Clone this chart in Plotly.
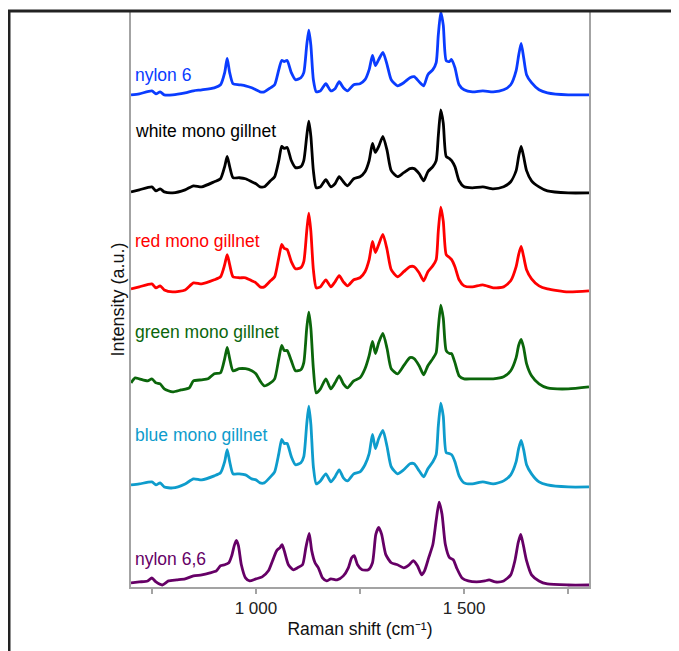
import plotly.graph_objects as go

# ---------------- data (stacked intensities, a.u.) ----------------
wn = [700, 720, 750, 760, 770, 780, 800, 830, 850, 870, 900, 915, 925, 931, 937, 945, 960, 975, 990, 1000,
      1010, 1020, 1035, 1045, 1055, 1062, 1068, 1075, 1085, 1095, 1108, 1115, 1122, 1127, 1132, 1138, 1145,
      1155, 1168, 1180, 1190, 1200, 1210, 1220, 1235, 1250, 1262, 1272, 1280, 1287, 1295, 1305, 1315, 1325,
      1340, 1355, 1370, 1380, 1392, 1403, 1413, 1425, 1433, 1438, 1444, 1450, 1457, 1465, 1470, 1478, 1488,
      1500, 1520, 1545, 1570, 1595, 1612, 1625, 1631, 1637, 1643, 1650, 1662, 1680, 1700, 1750, 1800]

nylon6 = [487, 488, 491, 488, 490, 487, 487, 489, 491, 492, 494, 497, 509, 523, 509, 498, 497, 496, 494, 492,
          490, 490, 494, 497, 512, 521, 520, 521, 509, 502, 504, 509, 536, 551, 536, 502, 490,
          491, 498, 491, 493, 500, 494, 491, 497, 498, 502, 512, 526, 516, 522, 529, 517, 502,
          496, 499, 504, 505, 500, 496, 507, 512, 519, 546, 569, 556, 521, 520, 522, 514, 497,
          492, 490, 491, 490, 492, 497, 511, 526, 538, 524, 507, 499, 492, 489, 487, 487]

white_mono = [391, 393, 396, 392, 394, 391, 390, 393, 397, 396, 401, 404, 416, 426, 416, 405, 405, 404, 401, 399,
              396, 396, 402, 406, 422, 436, 434, 435, 422, 415, 416, 422, 446, 461, 446, 412, 395,
              396, 403, 396, 399, 406, 401, 397, 404, 406, 411, 422, 439, 430, 436, 446, 432, 412,
              406, 410, 414, 414, 409, 402, 411, 416, 422, 446, 472, 459, 426, 424, 422, 416, 402,
              396, 395, 396, 394, 396, 401, 412, 426, 436, 426, 412, 402, 396, 392, 390, 390]

red_mono = [295, 297, 300, 296, 298, 294, 292, 294, 301, 300, 304, 307, 319, 329, 319, 307, 306, 306, 303, 301,
            297, 297, 303, 307, 326, 339, 335, 334, 322, 315, 316, 322, 352, 370, 352, 314, 296,
            297, 304, 297, 302, 308, 302, 298, 304, 306, 312, 324, 342, 331, 339, 349, 334, 314,
            307, 312, 317, 317, 311, 303, 312, 318, 324, 352, 376, 362, 329, 326, 324, 317, 304,
            298, 297, 299, 296, 297, 303, 317, 329, 337, 327, 314, 305, 298, 295, 292, 293]

blue_mono = [101, 102, 104, 101, 103, 99, 98, 102, 107, 106, 110, 113, 124, 136, 124, 112, 112, 111, 107, 106,
             103, 103, 109, 114, 132, 146, 142, 142, 129, 121, 123, 129, 161, 179, 161, 119, 102,
             105, 112, 104, 109, 116, 108, 105, 112, 114, 121, 132, 151, 137, 147, 155, 139, 119,
             112, 116, 122, 122, 115, 109, 117, 124, 131, 159, 182, 169, 133, 132, 131, 124, 110,
             103, 102, 104, 102, 105, 111, 124, 137, 145, 136, 121, 112, 104, 101, 99, 99]

wn_green = [700, 710, 720, 740, 750, 760, 770, 780, 800, 820, 840, 850, 870, 885, 900, 915, 925, 931, 937, 945,
            960, 975, 990, 1000, 1010, 1020, 1035, 1045, 1055, 1062, 1068, 1075, 1085, 1095, 1108, 1115, 1122,
            1127, 1132, 1138, 1145, 1155, 1168, 1180, 1190, 1200, 1210, 1220, 1235, 1250, 1262, 1272, 1280,
            1287, 1295, 1305, 1315, 1325, 1340, 1355, 1370, 1380, 1392, 1403, 1413, 1425, 1433, 1438, 1444,
            1450, 1457, 1465, 1470, 1478, 1488, 1500, 1520, 1545, 1570, 1595, 1612, 1625, 1631, 1637, 1643,
            1650, 1662, 1680, 1700, 1750, 1800]
green_mono = [202, 207, 206, 204, 206, 202, 201, 196, 193, 195, 197, 204, 205, 206, 211, 212, 226, 237, 226, 214,
              216, 216, 214, 211, 204, 199, 202, 206, 226, 239, 234, 234, 224, 214, 215, 222, 256,
              272, 256, 216, 192, 196, 206, 196, 202, 209, 201, 197, 204, 207, 216, 229, 243,
              231, 242, 251, 236, 216, 211, 219, 227, 226, 219, 210, 219, 226, 232, 256, 279,
              266, 234, 231, 231, 222, 209, 206, 206, 206, 206, 208, 214, 227, 239, 245, 237,
              221, 209, 201, 197, 196, 198]

wn_n66 = [700, 720, 740, 750, 760, 775, 790, 810, 830, 850, 870, 890, 905, 915, 925, 935, 942, 948, 953, 958,
          965, 975, 985, 1000, 1015, 1030, 1040, 1050, 1058, 1063, 1068, 1078, 1090, 1100, 1112, 1120, 1128,
          1134, 1142, 1150, 1160, 1170, 1180, 1195, 1210, 1222, 1230, 1236, 1244, 1255, 1270, 1280, 1288,
          1295, 1302, 1312, 1325, 1340, 1355, 1368, 1378, 1388, 1398, 1405, 1415, 1425, 1433, 1440, 1447,
          1455, 1465, 1474, 1482, 1495, 1510, 1530, 1550, 1560, 1575, 1595, 1612, 1622, 1630, 1636, 1642,
          1650, 1662, 1680, 1700, 1750, 1800]
nylon66 = [4, 5, 6, 9, 5, 2, 6, 7, 8, 11, 12, 14, 16, 21, 22, 24, 31, 41, 46, 41,
           22, 9, 6, 8, 10, 16, 26, 36, 39, 42, 36, 22, 17, 19, 22, 39, 53,
           36, 24, 19, 9, 6, 8, 7, 11, 19, 29, 31, 22, 17, 17, 24, 52,
           59, 52, 32, 24, 22, 19, 22, 26, 21, 12, 16, 29, 42, 66, 84, 72,
           42, 29, 27, 19, 9, 6, 5, 6, 7, 5, 6, 12, 26, 44, 52, 42,
           26, 12, 6, 3, 2, 2]

series_names = ["nylon 6", "white mono gillnet", "red mono gillnet",
                "green mono gillnet", "blue mono gillnet", "nylon 6,6"]
series_x = [wn, wn, wn, wn_green, wn, wn_n66]
series_y = [nylon6, white_mono, red_mono, green_mono, blue_mono, nylon66]
label_y = [507, 451, 342, 252, 150, 28]
colors = ["#0a3cff", "#000000", "#ff0000", "#0b660b", "#0e9ccc", "#660066"]

tick_vals = [750, 1000, 1250, 1500, 1750]
tick_text = ["", "1 000", "", "1 500", ""]

# ---------------- figure ----------------
FONT = "Liberation Sans, Arial, sans-serif"
fig = go.Figure()
for name, xs, ys, c in zip(series_names, series_x, series_y, colors):
    fig.add_trace(go.Scatter(x=xs, y=ys, mode="lines", name=name,
                             line=dict(color=c, width=2.8, shape="spline", smoothing=0.6),
                             showlegend=False, hoverinfo="skip"))

for name, ly, c in zip(series_names, label_y, colors):
    fig.add_annotation(x=0.004, xref="paper", y=ly, yref="y", text=name, showarrow=False,
                       xanchor="left", yanchor="middle",
                       font=dict(family=FONT, size=17.5, color=c))

axis_gray = "#a3a3a3"
fig.update_xaxes(range=[700, 1800], showgrid=False, zeroline=False,
                 showline=True, linecolor=axis_gray, linewidth=1.6, mirror=True,
                 ticks="outside", ticklen=5, tickwidth=1.6, tickcolor=axis_gray,
                 tickvals=tick_vals, ticktext=tick_text, ticklabelstandoff=0,
                 tickfont=dict(family=FONT, size=17, color="#222"),
                 title=dict(text="Raman shift (cm⁻¹)", standoff=6,
                            font=dict(family=FONT, size=17.5, color="#111")))
fig.update_yaxes(range=[0, 569], showgrid=False, zeroline=False,
                 showline=True, linecolor=axis_gray, linewidth=1.6, mirror=True,
                 showticklabels=False, ticks="",
                 title=dict(text="Intensity (a.u.)", standoff=0,
                            font=dict(family=FONT, size=18, color="#111")))

# page body has an 8 px margin; compensate so the plot sits where it does in the picture
OFF = 8
W, H = 679 - OFF, 651 - OFF
L, R, T, B = 131 - OFF, 90, 10 - OFF, 72 - OFF
pw, ph = W - L - R, H - T - B
def px2paper(px):
    return (px - OFF - L) / pw
def py2paper(py):
    return (H - B - (py - OFF)) / ph
fig.add_shape(type="line", xref="paper", yref="paper",
              x0=px2paper(8), x1=px2paper(700), y0=py2paper(9), y1=py2paper(9),
              line=dict(color="#222222", width=3))
fig.add_shape(type="line", xref="paper", yref="paper",
              x0=px2paper(9), x1=px2paper(9), y0=py2paper(8), y1=py2paper(700),
              line=dict(color="#222222", width=3))

fig.update_layout(width=W, height=H, margin=dict(l=L, r=R, t=T, b=B),
                  plot_bgcolor="white", paper_bgcolor="white")

fig.write_html("out.html")
